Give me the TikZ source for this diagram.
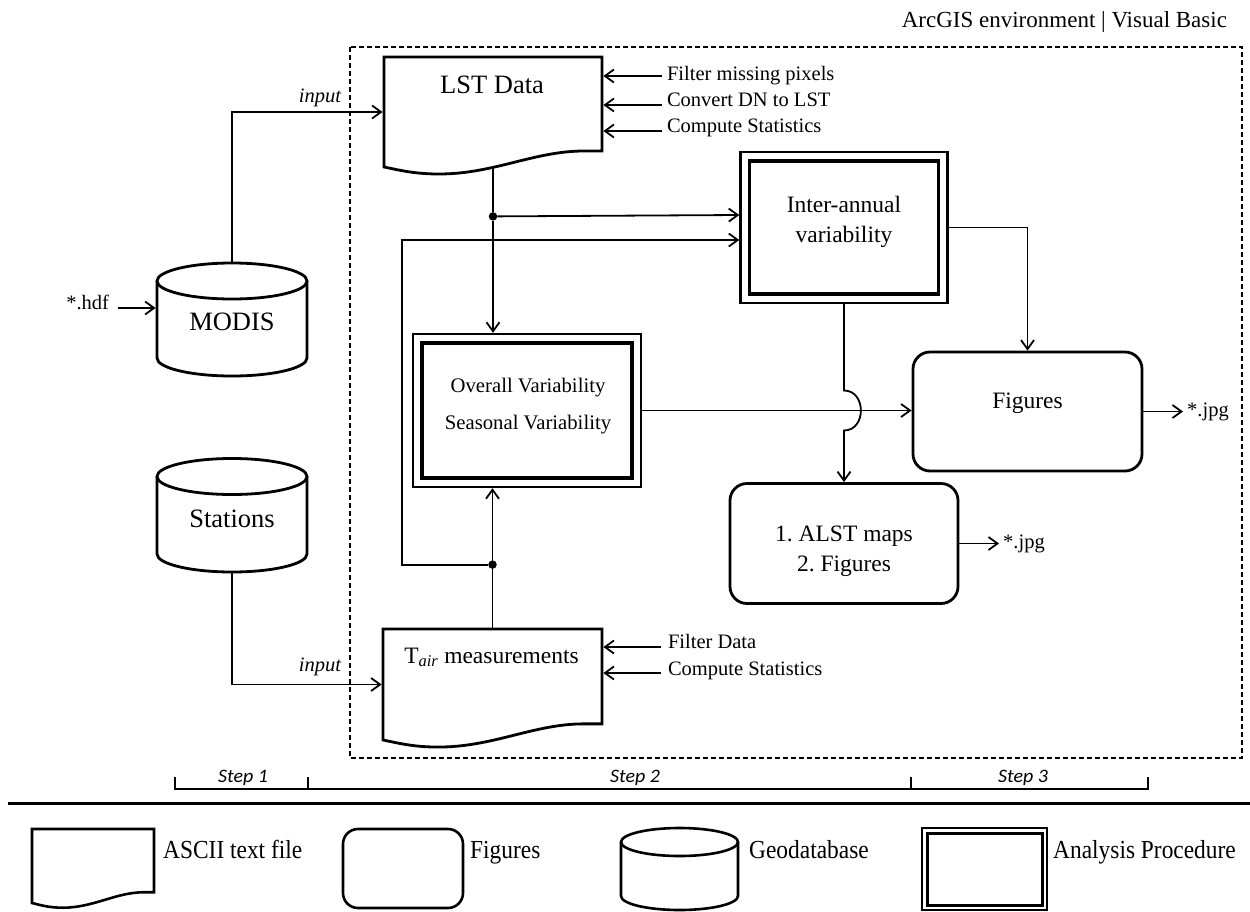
\documentclass[tikz,border=0pt]{standalone}
\usepackage{graphicx}
\usepackage{fontspec}
\setmainfont{Liberation Serif}
\newfontfamily\stepfamily{Carlito}
\usetikzlibrary{arrows.meta,calc}
\frenchspacing

\newcommand{\FntBig}{\fontsize{26.5pt}{30pt}\selectfont}
\newcommand{\FntMid}{\fontsize{23.5pt}{29.5pt}\selectfont}
\newcommand{\FntVar}{\fontsize{20.7pt}{37pt}\selectfont}
\newcommand{\FntSmall}{\fontsize{20.5pt}{24pt}\selectfont}
\newcommand{\FntTop}{\fontsize{23pt}{26pt}\selectfont}
\newcommand{\FntLeg}{\fontsize{26pt}{30pt}\selectfont}
\newcommand{\FntStep}{\fontsize{19pt}{21pt}\selectfont\stepfamily\itshape}

% document (ASCII file) outline, local size 218 x 117
\newcommand{\DocOutline}[5]{%
  \begin{scope}[shift={(#1,#2)}, xscale=#3, yscale=#4]
    \draw[line width=#5, line join=miter] (0,0) -- (218,0) -- (218,94) -- (200,94)
      .. controls (150,94) and (110,117) .. (55,117)
      .. controls (30,117) and (15,113) .. (0,110) -- cycle;
  \end{scope}}
% cylinder outline: cx, top centre y, bottom centre y, rx, ry, line width
\newcommand{\CylOutline}[6]{%
  \draw[line width=#6] ({#1-#4},#2) -- ({#1-#4},#3)
    .. controls ({#1-#4},{#3+0.552*#5}) and ({#1-0.552*#4},{#3+#5}) .. (#1,{#3+#5})
    .. controls ({#1+0.552*#4},{#3+#5}) and ({#1+#4},{#3+0.552*#5}) .. ({#1+#4},#3)
    -- ({#1+#4},#2);
  \draw[line width=#6] (#1,#2) ellipse [x radius=#4pt, y radius=#5pt];}

\begin{document}
\begin{tikzpicture}[x=1pt, y=-1pt,
  >={Straight Barb[length=9pt,width=13pt]},
  conn/.style={line width=1.8pt},
  arr/.style={line width=1.8pt, ->},
  holder/.style={inner sep=0pt, outer sep=1.4pt},
  lbl/.style={inner sep=0pt, outer sep=0pt},
  dotn/.style={circle, fill=black, inner sep=0pt, minimum size=8.5pt},
  rbox/.style={draw, line width=2.8pt, rounded corners=17pt, inner sep=0pt},
  abox/.style={draw, line width=2.4pt, inner sep=0pt},
  innerline/.style={line width=3.5pt},
  envbox/.style={line width=1.3pt, dash pattern=on 5pt off 3pt},
  leglbl/.style={inner sep=0pt, anchor=base west, font=\FntLeg},
  steplbl/.style={inner sep=0pt, anchor=base, font=\FntStep},
]
\useasboundingbox (0,0) rectangle (1250,911);

% ---------- environment box ----------
\draw[envbox] (350,47) rectangle (1242,758);
\node[lbl, anchor=base east, font=\FntTop] (env) at (1227,27) {ArcGIS environment | Visual Basic};

% ---------- shape holders ----------
\node[holder, minimum width=218pt, minimum height=110pt] (lst) at (493,112) {};
\node[holder, minimum width=219pt, minimum height=111pt] (tair) at (492.5,684.5) {};
\node[holder, minimum width=150pt, minimum height=113pt] (modis) at (232,319.5) {};
\node[holder, minimum width=150pt, minimum height=114pt] (stations) at (232,515) {};
\node[abox, minimum width=207pt, minimum height=151pt] (ia) at (844,227.5) {};
\node[abox, minimum width=228pt, minimum height=153pt] (seas) at (527,410.5) {};
\node[rbox, minimum width=229pt, minimum height=119pt] (fig) at (1027.5,411.5) {};
\node[rbox, minimum width=228pt, minimum height=120pt] (alst) at (844,543.5) {};

% ---------- shape outlines ----------
\DocOutline{384}{57}{1}{1}{2.8pt}
\DocOutline{383}{629}{1.005}{1.009}{2.8pt}
\CylOutline{232}{281}{358}{75}{18}{2.8pt}
\CylOutline{232}{476.5}{554}{75}{18}{2.8pt}
\draw[innerline] ($(ia.north west)+(10,10)$) rectangle ($(ia.south east)+(-10,-10)$);
\draw[innerline] ($(seas.north west)+(10,10)$) rectangle ($(seas.south east)+(-10,-10)$);

% ---------- labels ----------
\node[lbl, anchor=base, font=\FntBig] (lstl) at (492,93) {LST Data};
\node[lbl, anchor=base, font=\FntMid] (tairl) at (491.5,663) {T\textsubscript{\textit{air}} measurements};
\node[lbl, anchor=base, font=\FntBig] (modisl) at (232,330) {MODIS};
\node[lbl, anchor=base, font=\FntBig] (stationsl) at (232,527) {Stations};
\node[lbl, align=center, font=\FntMid] (ial) at (844,222) {Inter-annual\\variability};
\node[lbl, align=center, font=\FntVar] (seasl) at (528,406) {Overall Variability\\Seasonal Variability};
\node[lbl, font=\FntMid] (figl) at (1027.5,403) {Figures};
\node[lbl, align=center, font=\FntMid] (alstl) at (844,551) {1. ALST maps\\2. Figures};

\node[lbl, anchor=base east, font={\FntSmall\itshape}] (in1) at (341,102) {input};
\node[lbl, anchor=base east, font={\FntSmall\itshape}] (in2) at (341,671) {input};
\node[lbl, anchor=base east, font=\FntSmall] (hdf) at (109,309) {*.hdf};
\node[anchor=west, inner xsep=4pt, inner ysep=0pt, font=\FntSmall] (jpg1) at (1183,411.5) {*.jpg};
\node[anchor=west, inner xsep=4pt, inner ysep=0pt, font=\FntSmall] (jpg2) at (999,543.5) {*.jpg};

\node[lbl, anchor=base west, font=\FntSmall] (s1) at (667,80) {Filter missing pixels};
\node[lbl, anchor=base west, font=\FntSmall] (s2) at (667,106) {Convert DN to LST};
\node[lbl, anchor=base west, font=\FntSmall] (s3) at (667,132) {Compute Statistics};
\node[lbl, anchor=base west, font=\FntSmall] (t1) at (668,648) {Filter Data};
\node[lbl, anchor=base west, font=\FntSmall] (t2) at (668,675) {Compute Statistics};

% ---------- junction dots ----------
\path (lst.south) ++(0,48) node[dotn] (d1) {};
\path (tair.north) ++(0,-63) node[dotn] (d2) {};
\coordinate (fbk) at (402,400);
\coordinate (jx) at (ia.south |- seas.east);
\coordinate (hdfend) at (modis.west |- hdf.base east);

% ---------- connectors ----------
\draw[arr] (modis.north) |- (lst.west);
\draw[arr] (stations.south) |- (tair.west);
\draw[arr] ($(hdf.base east)+(9,-1)$) -- ($(hdfend)+(0,-1)$);
\draw[conn] (lst.south) -- (d1);
\draw[arr] (d1) -- (d1 |- seas.north);
\draw[arr] (d1) -- ($(ia.west)+(0,-12.5)$);
\draw[arr] (tair.north) -- (tair.north |- seas.south);
\draw[arr] (d2) -| (fbk) |- ($(ia.west)+(0,12.5)$);
\draw[arr] (seas.east) -- (seas.east -| fig.west);
\draw[arr] (ia.east) -| (fig.north);
\draw[arr] (ia.south) -- ($(jx)+(0,-20)$)
   .. controls ($(jx)+(22.5,-20)$) and ($(jx)+(22.5,20)$) .. ($(jx)+(0,20)$)
   -- (alst.north);
\draw[arr] (fig.east) -- (jpg1.west);
\draw[arr] (alst.east) -- (jpg2.west);

\draw[arr] ($(s1.base west)+(-5,-4)$) -- ($(s1.base west -| lst.east)+(0,-4)$);
\draw[arr] ($(s2.base west)+(-5,-1)$) -- ($(s2.base west -| lst.east)+(0,-1)$);
\draw[arr] ($(s3.base west)+(-5,-1)$) -- ($(s3.base west -| lst.east)+(0,-1)$);
\draw[arr] ($(t1.base west)+(-7,-1)$) -- ($(t1.base west -| tair.east)+(0,-1)$);
\draw[arr] ($(t2.base west)+(-7,-2)$) -- ($(t2.base west -| tair.east)+(0,-2)$);

% ---------- steps ----------
\draw[conn] (175,777) -- (175,789) -- (1148,789) -- (1148,777);
\draw[conn] (308,777) -- (308,789);
\draw[conn] (911,777) -- (911,789);
\node[steplbl] (step1) at (243,782) {\scalebox{1.05}[1]{Step 1}};
\node[steplbl] (step2) at (635,782) {\scalebox{1.05}[1]{Step 2}};
\node[steplbl] (step3) at (1023,782) {\scalebox{1.05}[1]{Step 3}};

\draw[line width=3pt] (8,803) -- (1250,803);

% ---------- legend ----------
\node[holder, minimum width=122pt, minimum height=74pt] (legdoc) at (93,866) {};
\DocOutline{32}{829}{0.5596}{0.6727}{2.6pt}
\node[leglbl] (legdocl) at (163,858) {\scalebox{0.9}[1]{ASCII text file}};

\node[draw, line width=2.6pt, rounded corners=15pt, inner sep=0pt, minimum width=120pt, minimum height=79pt] (legfig) at (403,868.5) {};
\node[leglbl] (legfigl) at (470,858) {\scalebox{0.9}[1]{Figures}};

\node[holder, minimum width=117pt, minimum height=82pt] (legcyl) at (679.5,869) {};
\CylOutline{679.5}{842}{896}{58.5}{14}{2.6pt}
\node[leglbl] (legcyll) at (749,858) {\scalebox{0.9}[1]{Geodatabase}};

\node[draw, line width=2pt, inner sep=0pt, minimum width=125pt, minimum height=82pt] (legana) at (984.5,869) {};
\draw[line width=3pt] ($(legana.north west)+(6,6)$) rectangle ($(legana.south east)+(-6,-6)$);
\node[leglbl] (leganal) at (1053,858) {\scalebox{0.9}[1]{Analysis Procedure}};

\end{tikzpicture}
\end{document}
